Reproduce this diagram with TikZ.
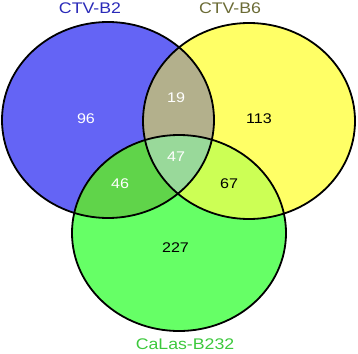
\documentclass[tikz,border=0pt]{standalone}
\usepackage{fontspec}
\setmainfont{Liberation Sans}
\definecolor{cB}{HTML}{6464F5}
\definecolor{cY}{HTML}{FFFF66}
\definecolor{cG}{HTML}{66FF66}
\definecolor{cBY}{HTML}{B3B08C}
\definecolor{cBG}{HTML}{60D44A}
\definecolor{cYG}{HTML}{CCFF55}
\definecolor{cBYG}{HTML}{99D99A}
\definecolor{tB}{HTML}{2A2AB8}
\definecolor{tY}{HTML}{6B6B35}
\definecolor{tG}{HTML}{3CC83C}
\begin{document}
\begin{tikzpicture}[x=1pt,y=-1pt,
  outline/.style={draw=black,line width=1.8pt},
  num/.style={font=\fontsize{14}{16}\selectfont,inner sep=0pt},
  setlab/.style={font=\fontsize{15.4}{17}\selectfont,inner sep=0pt}]
\useasboundingbox (0,0) rectangle (358,353);
% base fills
\fill[cB] (108,120) ellipse [x radius=106, y radius=98];
\fill[cY] (249,121) ellipse [x radius=106, y radius=98];
\fill[cG] (179,233) ellipse [x radius=107, y radius=98];
% pairwise overlaps
\begin{scope}
  \clip (108,120) ellipse [x radius=106, y radius=98];
  \fill[cBY] (249,121) ellipse [x radius=106, y radius=98];
\end{scope}
\begin{scope}
  \clip (108,120) ellipse [x radius=106, y radius=98];
  \fill[cBG] (179,233) ellipse [x radius=107, y radius=98];
\end{scope}
\begin{scope}
  \clip (249,121) ellipse [x radius=106, y radius=98];
  \fill[cYG] (179,233) ellipse [x radius=107, y radius=98];
\end{scope}
\begin{scope}
  \clip (108,120) ellipse [x radius=106, y radius=98];
  \clip (249,121) ellipse [x radius=106, y radius=98];
  \fill[cBYG] (179,233) ellipse [x radius=107, y radius=98];
\end{scope}
% outlines
\draw[outline] (108,120) ellipse [x radius=106, y radius=98];
\draw[outline] (249,121) ellipse [x radius=106, y radius=98];
\draw[outline] (179,233) ellipse [x radius=107, y radius=98];
% counts
\node[num,text=white] (n96) at (86,119) {\scalebox{1.15}[1]{96}};
\node[num,text=white] (n19) at (176,98) {\scalebox{1.15}[1]{19}};
\node[num,text=black] (n113) at (259,119) {\scalebox{1.15}[1]{113}};
\node[num,text=white] (n47) at (176,157) {\scalebox{1.15}[1]{47}};
\node[num,text=white] (n46) at (120,184) {\scalebox{1.15}[1]{46}};
\node[num,text=black] (n67) at (229,184) {\scalebox{1.15}[1]{67}};
\node[num,text=black] (n227) at (175.5,248) {\scalebox{1.15}[1]{227}};
% set labels
\node[setlab,text=tB] (lB) at (90,8.5) {\scalebox{1.15}[1]{CTV-B2}};
\node[setlab,text=tY] (lY) at (230,8.5) {\scalebox{1.15}[1]{CTV-B6}};
\node[setlab,text=tG] (lG) at (185,344) {\scalebox{1.15}[1]{CaLas-B232}};
\end{tikzpicture}
\end{document}
